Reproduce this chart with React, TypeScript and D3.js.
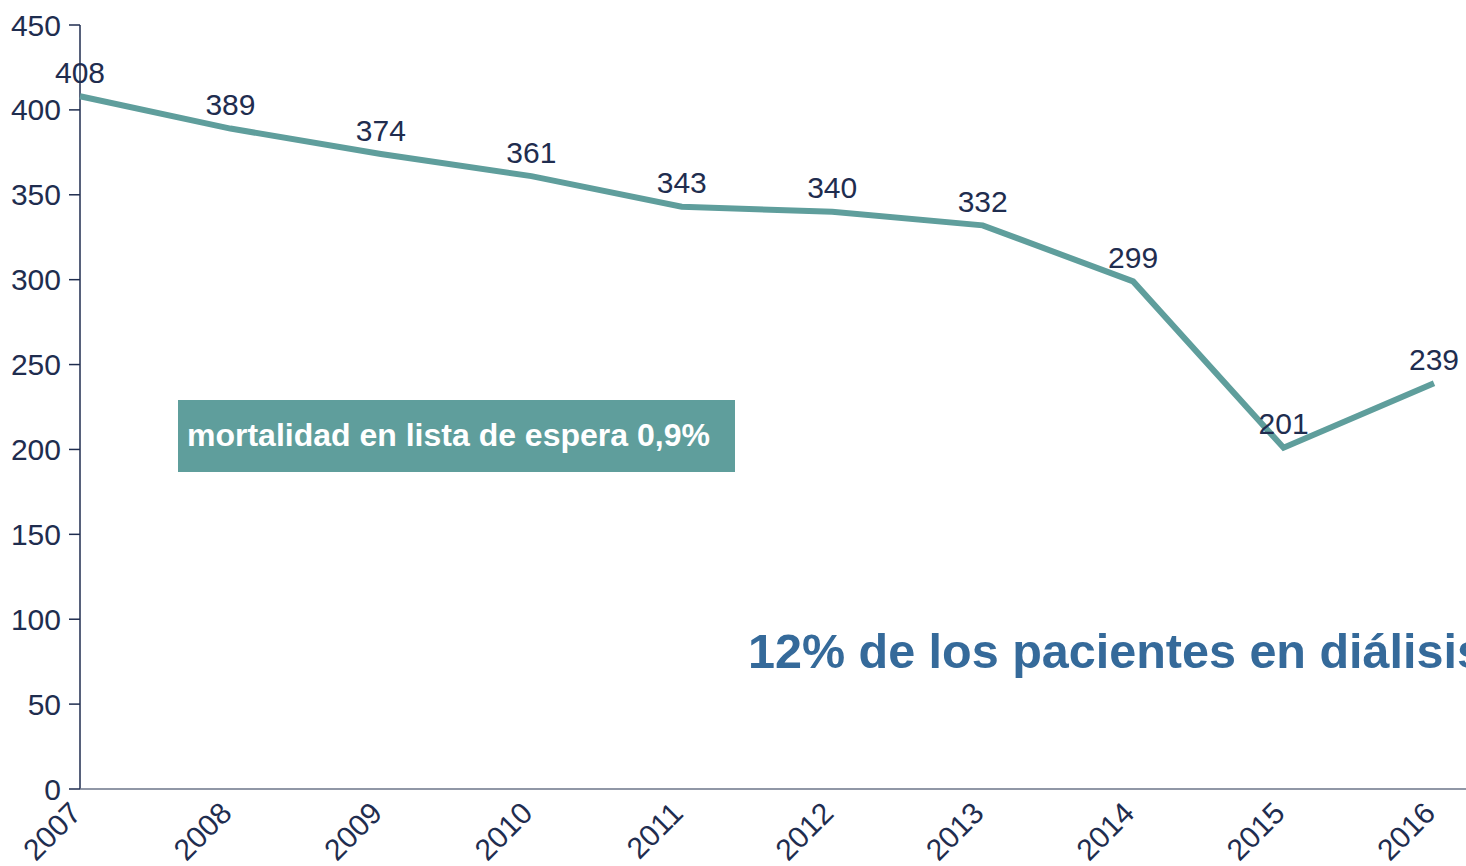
import React from "react";
import * as d3 from "d3";

const years = ["2007", "2008", "2009", "2010", "2011", "2012", "2013", "2014", "2015", "2016"];
const values = [408, 389, 374, 361, 343, 340, 332, 299, 201, 239];
const yTicks = [0, 50, 100, 150, 200, 250, 300, 350, 400, 450];
const boxLabel = "mortalidad en lista de espera 0,9%";
const noteLabel = "12% de los pacientes en diálisis";

const W = 1466;
const H = 866;
const NAVY = "#1f2d4f";
const TEAL = "#5f9e9c";
const BLUE = "#356a9a";

export default function App() {
  const x = d3.scalePoint<string>().domain(years).range([80, 1434]);
  const y = d3.scaleLinear().domain([0, 450]).range([789, 25]);
  const line = d3
    .line<number>()
    .x((_, i) => x(years[i]) as number)
    .y((d) => y(d));

  return (
    <svg
      width={W}
      height={H}
      style={{ position: "absolute", left: 0, top: 0, fontFamily: "'Liberation Sans', Arial, sans-serif" }}
    >
      {/* y axis */}
      <line x1={80} x2={80} y1={y(450)} y2={y(0)} stroke={NAVY} strokeWidth={1.5} />
      {yTicks.map((t) => (
        <g key={t}>
          <line x1={69} x2={80} y1={y(t)} y2={y(t)} stroke={NAVY} strokeWidth={1.5} />
          <text x={61} y={y(t)} dy="0.35em" textAnchor="end" fontSize={30} fill={NAVY}>
            {t}
          </text>
        </g>
      ))}
      {/* x axis */}
      <line x1={80} x2={W} y1={y(0)} y2={y(0)} stroke="#6b7488" strokeWidth={1.5} />
      {years.map((yr) => (
        <text
          key={yr}
          transform={`translate(${(x(yr) as number) + 3},${y(0) + 26}) rotate(-45)`}
          textAnchor="end"
          fontSize={30}
          fill={NAVY}
        >
          {yr}
        </text>
      ))}
      {/* line */}
      <path d={line(values) || ""} fill="none" stroke={TEAL} strokeWidth={6} />
      {values.map((v, i) => (
        <text
          key={i}
          x={x(years[i]) as number}
          y={y(v) - 13.5}
          textAnchor="middle"
          fontSize={30}
          fill={NAVY}
        >
          {v}
        </text>
      ))}
      {/* box */}
      <rect x={178} y={400} width={557} height={72} fill={TEAL} />
      <text x={187} y={446} fontSize={32} fontWeight="bold" fill="#ffffff">
        {boxLabel}
      </text>
      {/* note */}
      <text x={748} y={668} fontSize={48.5} fontWeight="bold" fill={BLUE}>
        {noteLabel}
      </text>
    </svg>
  );
}
